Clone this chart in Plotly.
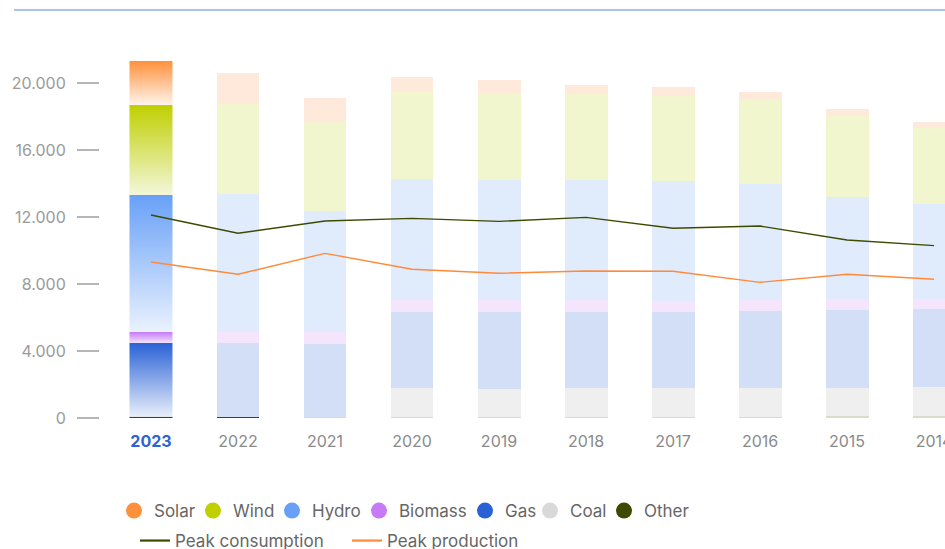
import plotly.graph_objects as go

# data (MW), newest year first
years = ["2023", "2022", "2021", "2020", "2019", "2018", "2017", "2016", "2015", "2014"]
other = [80, 80, 40, 40, 40, 40, 40, 40, 100, 100]
coal = [0, 0, 0, 1750, 1700, 1750, 1750, 1750, 1700, 1750]
gas = [4400, 4400, 4380, 4540, 4590, 4540, 4540, 4600, 4650, 4660]
biomass = [650, 650, 720, 720, 720, 720, 660, 660, 660, 600]
hydro = [8180, 8260, 7240, 7220, 7160, 7160, 7160, 6930, 6090, 5670]
wind = [5370, 5370, 5310, 5190, 5170, 5150, 5090, 5030, 4840, 4560]
solar = [2630, 1850, 1410, 920, 800, 520, 520, 460, 420, 340]
peak_consumption = [12120, 11030, 11760, 11920, 11740, 11980, 11330, 11460, 10630, 10290]
peak_production = [9310, 8580, 9830, 8880, 8640, 8780, 8760, 8100, 8580, 8280]
y_ticks = [0, 4000, 8000, 12000, 16000, 20000]

FONT = "Inter"
BAR_W = 0.494

# name, values, strong colour, pale colour, gradient bottom colour
series = [
    ("Other", other, "#3d4a00", "#d9dccb", "#3d4a00"),
    ("Coal", coal, "#d9d9d9", "#efefef", "#efefef"),
    ("Gas", gas, "#2a62d6", "#d3dff6", "#e8eefb"),
    ("Biomass", biomass, "#c77af8", "#f4e5fd", "#f2e2fd"),
    ("Hydro", hydro, "#68a0f7", "#e0ebfc", "#eaf2fe"),
    ("Wind", wind, "#bfcf00", "#f1f6cf", "#f3f7da"),
    ("Solar", solar, "#ff913c", "#ffe9da", "#fff4ec"),
]

xs = list(range(len(years)))
fig = go.Figure()

# pale stacked bars for the older years
for name, vals, strong, pale, _ in series:
    cols = [pale] * (len(years) - 1)
    if name == "Other":
        cols[0] = strong  # 2022 bottom line is dark as well
    fig.add_trace(go.Bar(
        x=xs[1:], y=vals[1:], width=BAR_W, name=name,
        marker=dict(color=cols, line_width=0),
        showlegend=False, hoverinfo="skip",
    ))

# highlighted 2023 bar, drawn as gradient-filled rectangles
base = 0
for name, vals, strong, pale, low in series:
    v = vals[0]
    if v > 0:
        x0, x1 = xs[0] - BAR_W / 2, xs[0] + BAR_W / 2
        fig.add_trace(go.Scatter(
            x=[x0, x1, x1, x0, x0], y=[base, base, base + v, base + v, base],
            mode="lines", fill="toself", line=dict(width=0),
            fillgradient=dict(type="vertical", colorscale=[[0, low], [1, strong]]),
            showlegend=False, hoverinfo="skip",
        ))
    base += v

# peak lines
fig.add_trace(go.Scatter(x=xs, y=peak_consumption, mode="lines",
                         line=dict(color="#3d4a00", width=1.4),
                         showlegend=False, name="Peak consumption"))
fig.add_trace(go.Scatter(x=xs, y=peak_production, mode="lines",
                         line=dict(color="#ff8a3a", width=1.4),
                         showlegend=False, name="Peak production"))


# plot area in pixels: x 100..945, y 33..418
def px_x(p):
    return (p - 100) / 845


def px_y(p):
    return (418 - p) / 385


# legend, one small legend per entry so the spacing follows the reference
legend_items = [
    ("Solar", "#ff913c", "marker", 138, 511),
    ("Wind", "#bfcf00", "marker", 217, 511),
    ("Hydro", "#68a0f7", "marker", 296, 511),
    ("Biomass", "#c77af8", "marker", 383, 511),
    ("Gas", "#2a62d6", "marker", 489, 511),
    ("Coal", "#d9d9d9", "marker", 554, 511),
    ("Other", "#3d4a00", "marker", 628, 511),
    ("Peak consumption", "#3d4a00", "line", 155, 541),
    ("Peak production", "#ff8a3a", "line", 367, 541),
]
legends = {}
for i, (name, col, kind, cx, cy) in enumerate(legend_items):
    key = "legend" if i == 0 else f"legend{i + 1}"
    if kind == "marker":
        tr = go.Scatter(x=[None], y=[None], mode="markers", name=name,
                        marker=dict(color=col, size=16, symbol="circle"))
        lx = cx - 24
    else:
        tr = go.Scatter(x=[None], y=[None], mode="lines", name=name,
                        line=dict(color=col, width=2.2))
        lx = cx - 20
    tr.legend = key
    fig.add_trace(tr)
    legends[key] = dict(
        x=px_x(lx), y=px_y(cy), xanchor="left", yanchor="middle",
        orientation="h", bgcolor="rgba(0,0,0,0)", borderwidth=0,
        font=dict(family=FONT, size=17, color="#666666"),
    )

fig.update_layout(**legends)

tick_text = ["<b><span style='color:#2d63d4'>2023</span></b>"] + years[1:]

fig.update_layout(
    width=945, height=549,
    barmode="stack",
    separators=",.",
    plot_bgcolor="white", paper_bgcolor="white",
    margin=dict(l=100, r=0, t=33, b=131, autoexpand=False),
    font=dict(family=FONT, color="#888888"),
    xaxis=dict(
        range=[-0.586, 9.126], tickvals=xs, ticktext=tick_text,
        showgrid=False, zeroline=False, showline=False, ticks="",
        tickfont=dict(family=FONT, size=16, color="#8a8a8a"),
        ticklabelstandoff=12, ticklabeloverflow="allow",
    ),
    yaxis=dict(
        range=[0, 22985], tickvals=y_ticks, tickformat=",d",
        showgrid=False, zeroline=False, showline=False,
        ticks="outside", ticklen=22, tickwidth=1.5, tickcolor="#b5b5b5",
        tickfont=dict(family=FONT, size=16, color="#9a9a9a"),
        ticklabelstandoff=8,
    ),
    shapes=[dict(type="line", xref="paper", yref="paper",
                 x0=px_x(14), x1=1.0, y0=px_y(10), y1=px_y(10),
                 line=dict(color="#8fb1ea", width=1.5))],
    hovermode="closest",
)

# page without the default body margin, so the figure fills the window
fig.write_html("out.html", config={"displayModeBar": False},
               post_script="document.body.style.margin='0';document.body.style.overflow='hidden';")
